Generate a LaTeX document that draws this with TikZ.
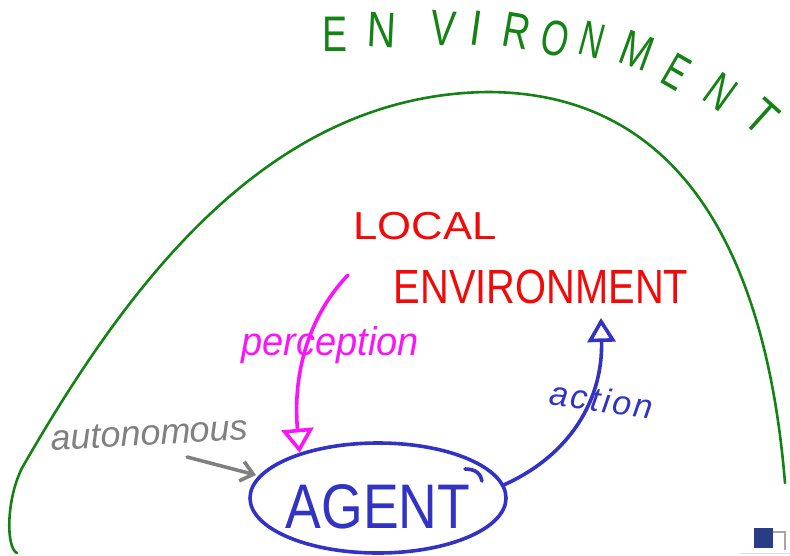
\documentclass[tikz,border=0pt]{standalone}
\usepackage{fontspec}
\setmainfont{Liberation Sans}
\usetikzlibrary{arrows.meta,shapes.geometric}
\definecolor{envgreen}{RGB}{20,130,20}
\definecolor{locred}{RGB}{240,10,10}
\definecolor{percmag}{RGB}{250,20,250}
\definecolor{agblue}{RGB}{50,50,195}
\definecolor{autgray}{RGB}{128,128,128}
\definecolor{iconblue}{RGB}{40,60,135}
\tikzset{
  biglet/.style={text=envgreen, inner sep=0pt, font=\fontsize{50}{50}\selectfont},
  redtext/.style={text=locred, inner sep=0pt},
  hand/.style={inner sep=0pt, anchor=base, font=\fontsize{40}{40}\selectfont\itshape},
  envline/.style={draw=envgreen, line width=2.6pt, line cap=round},
  blueline/.style={draw=agblue, line width=3.6pt, line cap=round},
}
\begin{document}
\begin{tikzpicture}[x=1pt,y=-1pt]
\useasboundingbox (0,0) rectangle (790,555);
% environment boundary
\draw[envline] (17,553) .. controls (6,548) and (6,500) .. (22,468)
  .. controls (130,280) and (270,95) .. (487,92)
  .. controls (707,92) and (770,300) .. (785,483);
% ENVIRONMENT title
\node[biglet] (e1) at (335,34) {\scalebox{0.75}[1]{E}};
\node[biglet, rotate=-3] (e2) at (382,30) {\scalebox{0.8}[1]{N}};
\node[biglet, rotate=-5] (e3) at (443,28) {\scalebox{0.75}[1]{V}};
\node[biglet, rotate=-8] (e4) at (476,28) {\scalebox{0.8}[1]{I}};
\node[biglet, rotate=-10] (e5) at (517,31) {\scalebox{0.75}[1]{R}};
\node[biglet, rotate=-12] (e6) at (555,38) {\scalebox{0.7}[1]{O}};
\node[biglet, rotate=-15] (e7) at (592,40) {\scalebox{0.65}[1]{N}};
\node[biglet, rotate=-20] (e8) at (637,51) {\scalebox{0.75}[1]{M}};
\node[biglet, rotate=-30] (e9) at (676,72) {\scalebox{0.65}[1]{E}};
\node[biglet, rotate=-36] (e10) at (721,92) {\scalebox{0.7}[1]{N}};
\node[biglet, rotate=-42] (e11) at (762,117) {\scalebox{0.8}[1]{T}};
% local environment
\node[redtext, font=\fontsize{39}{39}\selectfont] (local) at (425,226) {\scalebox{1.12}[1]{LOCAL}};
\node[redtext, font=\fontsize{48}{48}\selectfont] (localenv) at (541,287) {\scalebox{0.83}[1]{ENVIRONMENT}};
% agent
\node[ellipse, draw=agblue, line width=3.6pt, minimum width=256pt, minimum height=110pt, inner sep=0pt] (agent) at (378,498) {};
\node[text=agblue, inner sep=0pt, font=\fontsize{63}{63}\selectfont] (agenttext) at (378,507) {\scalebox{0.85}[1]{AGENT}};
\draw[blueline] (465,469) .. controls (476,469) and (481,474) .. (482,481);
% perception
\coordinate (percstart) at (348,275);
\draw[draw=percmag, line width=3.6pt, line cap=round, -{Triangle[open, length=24pt, width=32pt, line width=3.6pt]}]
  (percstart) .. controls (305,320) and (293,380) .. (agent.150);
\node[hand, text=percmag] (perc) at (330,355) {\scalebox{0.95}[1]{perception}};
% action
\coordinate (actend) at (601,318);
\draw[blueline, -{Triangle[open, length=24pt, width=28pt, line width=3.6pt]}]
  (agent.6) .. controls (570,455) and (603,400) .. (actend);
\node[hand, text=agblue, rotate=-8, font=\fontsize{34}{34}\selectfont\itshape] (act) at (600,412) {\addfontfeatures{LetterSpace=8}action};
% autonomous
\node[hand, text=autgray, rotate=3, font=\fontsize{36}{36}\selectfont\itshape] (aut) at (150,445) {autonomous};
\coordinate (autstart) at (187,457);
\coordinate (autend) at (256,475);
\draw[draw=autgray, line width=3.6pt, line cap=round, -{Straight Barb[length=12pt, width=20pt, line width=3.6pt]}] (autstart) -- (autend);
% corner icon
\fill[iconblue] (754,528) rectangle (773,548);
\draw[autgray!70, line width=2pt] (773,532) -- (785,532) -- (785,550);
\draw[blue!15, line width=1pt] (740,553) -- (790,553);
\end{tikzpicture}
\end{document}
